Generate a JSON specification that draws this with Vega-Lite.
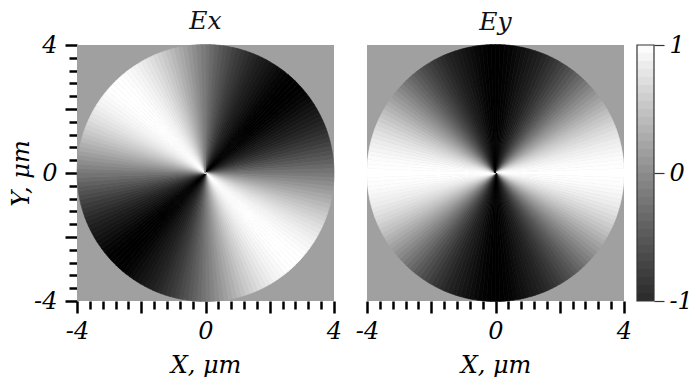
{
  "$schema": "https://vega.github.io/schema/vega-lite/v6.json",
  "background": "white",
  "padding": {"left": 9, "top": 9, "right": 0, "bottom": 0},
  "config": {
    "font": "DejaVu Serif",
    "view": {"stroke": null},
    "axis": {
      "domain": false,
      "grid": false,
      "labelFont": "DejaVu Serif",
      "labelFontStyle": "italic",
      "labelFontSize": 24,
      "labelColor": "#000",
      "titleFont": "DejaVu Serif",
      "titleFontStyle": "italic",
      "titleFontWeight": "normal",
      "titleFontSize": 24,
      "titleColor": "#000",
      "tickColor": "#000",
      "labelFlush": false,
      "labelOverlap": false,
      "labelBound": false
    },
    "title": {"font": "DejaVu Serif", "fontStyle": "italic", "fontWeight": "normal", "fontSize": 25, "color": "#111", "frame": "group", "baseline": "alphabetic"}
  },
  "datasets": {
    "frame": [{"x0": -4, "x1": 4, "y0": -4, "y1": 4}],
    "ex": [
      {"a":0,"b":2,"v":-0.035},{"a":2,"b":4,"v":-0.105},{"a":4,"b":6,"v":-0.174},{"a":6,"b":8,"v":-0.242},{"a":8,"b":10,"v":-0.309},{"a":10,"b":12,"v":-0.375},{"a":12,"b":14,"v":-0.438},{"a":14,"b":16,"v":-0.5},{"a":16,"b":18,"v":-0.559},{"a":18,"b":20,"v":-0.616},{"a":20,"b":22,"v":-0.669},{"a":22,"b":24,"v":-0.719},{"a":24,"b":26,"v":-0.766},{"a":26,"b":28,"v":-0.809},{"a":28,"b":30,"v":-0.848},{"a":30,"b":32,"v":-0.883},{"a":32,"b":34,"v":-0.914},{"a":34,"b":36,"v":-0.94},{"a":36,"b":38,"v":-0.961},{"a":38,"b":40,"v":-0.978},{"a":40,"b":42,"v":-0.99},{"a":42,"b":44,"v":-0.998},{"a":44,"b":46,"v":-1},{"a":46,"b":48,"v":-0.998},{"a":48,"b":50,"v":-0.99},{"a":50,"b":52,"v":-0.978},{"a":52,"b":54,"v":-0.961},{"a":54,"b":56,"v":-0.94},{"a":56,"b":58,"v":-0.914},{"a":58,"b":60,"v":-0.883},{"a":60,"b":62,"v":-0.848},{"a":62,"b":64,"v":-0.809},{"a":64,"b":66,"v":-0.766},{"a":66,"b":68,"v":-0.719},{"a":68,"b":70,"v":-0.669},{"a":70,"b":72,"v":-0.616},{"a":72,"b":74,"v":-0.559},{"a":74,"b":76,"v":-0.5},{"a":76,"b":78,"v":-0.438},{"a":78,"b":80,"v":-0.375},{"a":80,"b":82,"v":-0.309},{"a":82,"b":84,"v":-0.242},{"a":84,"b":86,"v":-0.174},{"a":86,"b":88,"v":-0.105},{"a":88,"b":90,"v":-0.035},
      {"a":90,"b":92,"v":0.035},{"a":92,"b":94,"v":0.105},{"a":94,"b":96,"v":0.174},{"a":96,"b":98,"v":0.242},{"a":98,"b":100,"v":0.309},{"a":100,"b":102,"v":0.375},{"a":102,"b":104,"v":0.438},{"a":104,"b":106,"v":0.5},{"a":106,"b":108,"v":0.559},{"a":108,"b":110,"v":0.616},{"a":110,"b":112,"v":0.669},{"a":112,"b":114,"v":0.719},{"a":114,"b":116,"v":0.766},{"a":116,"b":118,"v":0.809},{"a":118,"b":120,"v":0.848},{"a":120,"b":122,"v":0.883},{"a":122,"b":124,"v":0.914},{"a":124,"b":126,"v":0.94},{"a":126,"b":128,"v":0.961},{"a":128,"b":130,"v":0.978},{"a":130,"b":132,"v":0.99},{"a":132,"b":134,"v":0.998},{"a":134,"b":136,"v":1},{"a":136,"b":138,"v":0.998},{"a":138,"b":140,"v":0.99},{"a":140,"b":142,"v":0.978},{"a":142,"b":144,"v":0.961},{"a":144,"b":146,"v":0.94},{"a":146,"b":148,"v":0.914},{"a":148,"b":150,"v":0.883},{"a":150,"b":152,"v":0.848},{"a":152,"b":154,"v":0.809},{"a":154,"b":156,"v":0.766},{"a":156,"b":158,"v":0.719},{"a":158,"b":160,"v":0.669},{"a":160,"b":162,"v":0.616},{"a":162,"b":164,"v":0.559},{"a":164,"b":166,"v":0.5},{"a":166,"b":168,"v":0.438},{"a":168,"b":170,"v":0.375},{"a":170,"b":172,"v":0.309},{"a":172,"b":174,"v":0.242},{"a":174,"b":176,"v":0.174},{"a":176,"b":178,"v":0.105},{"a":178,"b":180,"v":0.035},
      {"a":180,"b":182,"v":-0.035},{"a":182,"b":184,"v":-0.105},{"a":184,"b":186,"v":-0.174},{"a":186,"b":188,"v":-0.242},{"a":188,"b":190,"v":-0.309},{"a":190,"b":192,"v":-0.375},{"a":192,"b":194,"v":-0.438},{"a":194,"b":196,"v":-0.5},{"a":196,"b":198,"v":-0.559},{"a":198,"b":200,"v":-0.616},{"a":200,"b":202,"v":-0.669},{"a":202,"b":204,"v":-0.719},{"a":204,"b":206,"v":-0.766},{"a":206,"b":208,"v":-0.809},{"a":208,"b":210,"v":-0.848},{"a":210,"b":212,"v":-0.883},{"a":212,"b":214,"v":-0.914},{"a":214,"b":216,"v":-0.94},{"a":216,"b":218,"v":-0.961},{"a":218,"b":220,"v":-0.978},{"a":220,"b":222,"v":-0.99},{"a":222,"b":224,"v":-0.998},{"a":224,"b":226,"v":-1},{"a":226,"b":228,"v":-0.998},{"a":228,"b":230,"v":-0.99},{"a":230,"b":232,"v":-0.978},{"a":232,"b":234,"v":-0.961},{"a":234,"b":236,"v":-0.94},{"a":236,"b":238,"v":-0.914},{"a":238,"b":240,"v":-0.883},{"a":240,"b":242,"v":-0.848},{"a":242,"b":244,"v":-0.809},{"a":244,"b":246,"v":-0.766},{"a":246,"b":248,"v":-0.719},{"a":248,"b":250,"v":-0.669},{"a":250,"b":252,"v":-0.616},{"a":252,"b":254,"v":-0.559},{"a":254,"b":256,"v":-0.5},{"a":256,"b":258,"v":-0.438},{"a":258,"b":260,"v":-0.375},{"a":260,"b":262,"v":-0.309},{"a":262,"b":264,"v":-0.242},{"a":264,"b":266,"v":-0.174},{"a":266,"b":268,"v":-0.105},{"a":268,"b":270,"v":-0.035},
      {"a":270,"b":272,"v":0.035},{"a":272,"b":274,"v":0.105},{"a":274,"b":276,"v":0.174},{"a":276,"b":278,"v":0.242},{"a":278,"b":280,"v":0.309},{"a":280,"b":282,"v":0.375},{"a":282,"b":284,"v":0.438},{"a":284,"b":286,"v":0.5},{"a":286,"b":288,"v":0.559},{"a":288,"b":290,"v":0.616},{"a":290,"b":292,"v":0.669},{"a":292,"b":294,"v":0.719},{"a":294,"b":296,"v":0.766},{"a":296,"b":298,"v":0.809},{"a":298,"b":300,"v":0.848},{"a":300,"b":302,"v":0.883},{"a":302,"b":304,"v":0.914},{"a":304,"b":306,"v":0.94},{"a":306,"b":308,"v":0.961},{"a":308,"b":310,"v":0.978},{"a":310,"b":312,"v":0.99},{"a":312,"b":314,"v":0.998},{"a":314,"b":316,"v":1},{"a":316,"b":318,"v":0.998},{"a":318,"b":320,"v":0.99},{"a":320,"b":322,"v":0.978},{"a":322,"b":324,"v":0.961},{"a":324,"b":326,"v":0.94},{"a":326,"b":328,"v":0.914},{"a":328,"b":330,"v":0.883},{"a":330,"b":332,"v":0.848},{"a":332,"b":334,"v":0.809},{"a":334,"b":336,"v":0.766},{"a":336,"b":338,"v":0.719},{"a":338,"b":340,"v":0.669},{"a":340,"b":342,"v":0.616},{"a":342,"b":344,"v":0.559},{"a":344,"b":346,"v":0.5},{"a":346,"b":348,"v":0.438},{"a":348,"b":350,"v":0.375},{"a":350,"b":352,"v":0.309},{"a":352,"b":354,"v":0.242},{"a":354,"b":356,"v":0.174},{"a":356,"b":358,"v":0.105},{"a":358,"b":360,"v":0.035}
    ],
    "ey": [
      {"a":0,"b":2,"v":-0.999},{"a":2,"b":4,"v":-0.995},{"a":4,"b":6,"v":-0.985},{"a":6,"b":8,"v":-0.97},{"a":8,"b":10,"v":-0.951},{"a":10,"b":12,"v":-0.927},{"a":12,"b":14,"v":-0.899},{"a":14,"b":16,"v":-0.866},{"a":16,"b":18,"v":-0.829},{"a":18,"b":20,"v":-0.788},{"a":20,"b":22,"v":-0.743},{"a":22,"b":24,"v":-0.695},{"a":24,"b":26,"v":-0.643},{"a":26,"b":28,"v":-0.588},{"a":28,"b":30,"v":-0.53},{"a":30,"b":32,"v":-0.469},{"a":32,"b":34,"v":-0.407},{"a":34,"b":36,"v":-0.342},{"a":36,"b":38,"v":-0.276},{"a":38,"b":40,"v":-0.208},{"a":40,"b":42,"v":-0.139},{"a":42,"b":44,"v":-0.07},{"a":44,"b":46,"v":0},{"a":46,"b":48,"v":0.07},{"a":48,"b":50,"v":0.139},{"a":50,"b":52,"v":0.208},{"a":52,"b":54,"v":0.276},{"a":54,"b":56,"v":0.342},{"a":56,"b":58,"v":0.407},{"a":58,"b":60,"v":0.469},{"a":60,"b":62,"v":0.53},{"a":62,"b":64,"v":0.588},{"a":64,"b":66,"v":0.643},{"a":66,"b":68,"v":0.695},{"a":68,"b":70,"v":0.743},{"a":70,"b":72,"v":0.788},{"a":72,"b":74,"v":0.829},{"a":74,"b":76,"v":0.866},{"a":76,"b":78,"v":0.899},{"a":78,"b":80,"v":0.927},{"a":80,"b":82,"v":0.951},{"a":82,"b":84,"v":0.97},{"a":84,"b":86,"v":0.985},{"a":86,"b":88,"v":0.995},{"a":88,"b":90,"v":0.999},
      {"a":90,"b":92,"v":0.999},{"a":92,"b":94,"v":0.995},{"a":94,"b":96,"v":0.985},{"a":96,"b":98,"v":0.97},{"a":98,"b":100,"v":0.951},{"a":100,"b":102,"v":0.927},{"a":102,"b":104,"v":0.899},{"a":104,"b":106,"v":0.866},{"a":106,"b":108,"v":0.829},{"a":108,"b":110,"v":0.788},{"a":110,"b":112,"v":0.743},{"a":112,"b":114,"v":0.695},{"a":114,"b":116,"v":0.643},{"a":116,"b":118,"v":0.588},{"a":118,"b":120,"v":0.53},{"a":120,"b":122,"v":0.469},{"a":122,"b":124,"v":0.407},{"a":124,"b":126,"v":0.342},{"a":126,"b":128,"v":0.276},{"a":128,"b":130,"v":0.208},{"a":130,"b":132,"v":0.139},{"a":132,"b":134,"v":0.07},{"a":134,"b":136,"v":0},{"a":136,"b":138,"v":-0.07},{"a":138,"b":140,"v":-0.139},{"a":140,"b":142,"v":-0.208},{"a":142,"b":144,"v":-0.276},{"a":144,"b":146,"v":-0.342},{"a":146,"b":148,"v":-0.407},{"a":148,"b":150,"v":-0.469},{"a":150,"b":152,"v":-0.53},{"a":152,"b":154,"v":-0.588},{"a":154,"b":156,"v":-0.643},{"a":156,"b":158,"v":-0.695},{"a":158,"b":160,"v":-0.743},{"a":160,"b":162,"v":-0.788},{"a":162,"b":164,"v":-0.829},{"a":164,"b":166,"v":-0.866},{"a":166,"b":168,"v":-0.899},{"a":168,"b":170,"v":-0.927},{"a":170,"b":172,"v":-0.951},{"a":172,"b":174,"v":-0.97},{"a":174,"b":176,"v":-0.985},{"a":176,"b":178,"v":-0.995},{"a":178,"b":180,"v":-0.999},
      {"a":180,"b":182,"v":-0.999},{"a":182,"b":184,"v":-0.995},{"a":184,"b":186,"v":-0.985},{"a":186,"b":188,"v":-0.97},{"a":188,"b":190,"v":-0.951},{"a":190,"b":192,"v":-0.927},{"a":192,"b":194,"v":-0.899},{"a":194,"b":196,"v":-0.866},{"a":196,"b":198,"v":-0.829},{"a":198,"b":200,"v":-0.788},{"a":200,"b":202,"v":-0.743},{"a":202,"b":204,"v":-0.695},{"a":204,"b":206,"v":-0.643},{"a":206,"b":208,"v":-0.588},{"a":208,"b":210,"v":-0.53},{"a":210,"b":212,"v":-0.469},{"a":212,"b":214,"v":-0.407},{"a":214,"b":216,"v":-0.342},{"a":216,"b":218,"v":-0.276},{"a":218,"b":220,"v":-0.208},{"a":220,"b":222,"v":-0.139},{"a":222,"b":224,"v":-0.07},{"a":224,"b":226,"v":0},{"a":226,"b":228,"v":0.07},{"a":228,"b":230,"v":0.139},{"a":230,"b":232,"v":0.208},{"a":232,"b":234,"v":0.276},{"a":234,"b":236,"v":0.342},{"a":236,"b":238,"v":0.407},{"a":238,"b":240,"v":0.469},{"a":240,"b":242,"v":0.53},{"a":242,"b":244,"v":0.588},{"a":244,"b":246,"v":0.643},{"a":246,"b":248,"v":0.695},{"a":248,"b":250,"v":0.743},{"a":250,"b":252,"v":0.788},{"a":252,"b":254,"v":0.829},{"a":254,"b":256,"v":0.866},{"a":256,"b":258,"v":0.899},{"a":258,"b":260,"v":0.927},{"a":260,"b":262,"v":0.951},{"a":262,"b":264,"v":0.97},{"a":264,"b":266,"v":0.985},{"a":266,"b":268,"v":0.995},{"a":268,"b":270,"v":0.999},
      {"a":270,"b":272,"v":0.999},{"a":272,"b":274,"v":0.995},{"a":274,"b":276,"v":0.985},{"a":276,"b":278,"v":0.97},{"a":278,"b":280,"v":0.951},{"a":280,"b":282,"v":0.927},{"a":282,"b":284,"v":0.899},{"a":284,"b":286,"v":0.866},{"a":286,"b":288,"v":0.829},{"a":288,"b":290,"v":0.788},{"a":290,"b":292,"v":0.743},{"a":292,"b":294,"v":0.695},{"a":294,"b":296,"v":0.643},{"a":296,"b":298,"v":0.588},{"a":298,"b":300,"v":0.53},{"a":300,"b":302,"v":0.469},{"a":302,"b":304,"v":0.407},{"a":304,"b":306,"v":0.342},{"a":306,"b":308,"v":0.276},{"a":308,"b":310,"v":0.208},{"a":310,"b":312,"v":0.139},{"a":312,"b":314,"v":0.07},{"a":314,"b":316,"v":0},{"a":316,"b":318,"v":-0.07},{"a":318,"b":320,"v":-0.139},{"a":320,"b":322,"v":-0.208},{"a":322,"b":324,"v":-0.276},{"a":324,"b":326,"v":-0.342},{"a":326,"b":328,"v":-0.407},{"a":328,"b":330,"v":-0.469},{"a":330,"b":332,"v":-0.53},{"a":332,"b":334,"v":-0.588},{"a":334,"b":336,"v":-0.643},{"a":336,"b":338,"v":-0.695},{"a":338,"b":340,"v":-0.743},{"a":340,"b":342,"v":-0.788},{"a":342,"b":344,"v":-0.829},{"a":344,"b":346,"v":-0.866},{"a":346,"b":348,"v":-0.899},{"a":348,"b":350,"v":-0.927},{"a":350,"b":352,"v":-0.951},{"a":352,"b":354,"v":-0.97},{"a":354,"b":356,"v":-0.985},{"a":356,"b":358,"v":-0.995},{"a":358,"b":360,"v":-0.999}
    ],
    "bar": [
      {"lo":-1,"hi":-0.9375,"v":-0.96875},{"lo":-0.9375,"hi":-0.875,"v":-0.90625},{"lo":-0.875,"hi":-0.8125,"v":-0.84375},{"lo":-0.8125,"hi":-0.75,"v":-0.78125},
      {"lo":-0.75,"hi":-0.6875,"v":-0.71875},{"lo":-0.6875,"hi":-0.625,"v":-0.65625},{"lo":-0.625,"hi":-0.5625,"v":-0.59375},{"lo":-0.5625,"hi":-0.5,"v":-0.53125},
      {"lo":-0.5,"hi":-0.4375,"v":-0.46875},{"lo":-0.4375,"hi":-0.375,"v":-0.40625},{"lo":-0.375,"hi":-0.3125,"v":-0.34375},{"lo":-0.3125,"hi":-0.25,"v":-0.28125},
      {"lo":-0.25,"hi":-0.1875,"v":-0.21875},{"lo":-0.1875,"hi":-0.125,"v":-0.15625},{"lo":-0.125,"hi":-0.0625,"v":-0.09375},{"lo":-0.0625,"hi":0,"v":-0.03125},
      {"lo":0,"hi":0.0625,"v":0.03125},{"lo":0.0625,"hi":0.125,"v":0.09375},{"lo":0.125,"hi":0.1875,"v":0.15625},{"lo":0.1875,"hi":0.25,"v":0.21875},
      {"lo":0.25,"hi":0.3125,"v":0.28125},{"lo":0.3125,"hi":0.375,"v":0.34375},{"lo":0.375,"hi":0.4375,"v":0.40625},{"lo":0.4375,"hi":0.5,"v":0.46875},
      {"lo":0.5,"hi":0.5625,"v":0.53125},{"lo":0.5625,"hi":0.625,"v":0.59375},{"lo":0.625,"hi":0.6875,"v":0.65625},{"lo":0.6875,"hi":0.75,"v":0.71875},
      {"lo":0.75,"hi":0.8125,"v":0.78125},{"lo":0.8125,"hi":0.875,"v":0.84375},{"lo":0.875,"hi":0.9375,"v":0.90625},{"lo":0.9375,"hi":1,"v":0.96875}
    ],
    "barframe": [{"lo": -1, "hi": 1}]
  },
  "hconcat": [
    {
      "bounds": "flush",
      "spacing": 33,
      "resolve": {"scale": {"theta": "independent", "radius": "independent", "x": "independent", "y": "independent"}},
      "hconcat": [
        {
          "width": 257,
          "height": 256,
          "title": {"text": "Ex", "offset": -1},
          "layer": [
            {
              "data": {"name": "frame"},
              "mark": {"type": "rect", "color": "#a0a0a0"},
              "encoding": {
                "x": {
                  "field": "x0", "type": "quantitative",
                  "scale": {"domain": [-4, 4], "nice": false, "zero": false},
                  "axis": {
                    "title": "X, μm",
                    "values": [-4,-3.6,-3.2,-2.8,-2.4,-2,-1.6,-1.2,-0.8,-0.4,0,0.4,0.8,1.2,1.6,2,2.4,2.8,3.2,3.6,4],
                    "tickCount": 40,
                    "labelExpr": "datum.value === -4 ? '-4' : datum.value === 0 ? '0' : datum.value === 4 ? '4' : ''",
                    "tickSize": {"condition": {"test": "datum.value === 0 || abs(datum.value) === 2 || abs(datum.value) === 4", "value": 12}, "value": 8},
                    "tickWidth": 2.5,
                    "labelPadding": 6,
                    "titlePadding": 10
                  }
                },
                "x2": {"field": "x1"},
                "y": {
                  "field": "y0", "type": "quantitative",
                  "scale": {"domain": [-4, 4], "nice": false, "zero": false},
                  "axis": {
                    "title": "Y, μm",
                    "values": [-4,-3.6,-3.2,-2.8,-2.4,-2,-1.6,-1.2,-0.8,-0.4,0,0.4,0.8,1.2,1.6,2,2.4,2.8,3.2,3.6,4],
                    "tickCount": 40,
                    "labelExpr": "datum.value === -4 ? '-4' : datum.value === 0 ? '0' : datum.value === 4 ? '4' : ''",
                    "tickSize": {"condition": {"test": "datum.value === 0 || abs(datum.value) === 2 || abs(datum.value) === 4", "value": 12}, "value": 8},
                    "tickWidth": 2.5,
                    "labelPadding": 8,
                    "titlePadding": 0
                  }
                },
                "y2": {"field": "y1"}
              }
            },
            {
              "data": {"name": "ex"},
              "mark": {"type": "arc", "strokeWidth": 0.6},
              "encoding": {
                "x": {"datum": 0, "type": "quantitative"},
                "y": {"datum": 0, "type": "quantitative"},
                "theta": {"field": "a", "type": "quantitative", "stack": null, "scale": {"domain": [0, 360], "range": [0, 6.283185307179586]}},
                "theta2": {"field": "b"},
                "radius": {"datum": 4, "type": "quantitative", "scale": {"type": "linear", "domain": [0, 4], "range": [0, 128.5]}},
                "fill": {"field": "v", "type": "quantitative", "scale": {"domain": [-1, 1], "range": ["#000000", "#ffffff"]}, "legend": null},
                "stroke": {"field": "v", "type": "quantitative", "scale": {"domain": [-1, 1], "range": ["#000000", "#ffffff"]}, "legend": null}
              }
            }
          ]
        },
        {
          "width": 257,
          "height": 256,
          "title": {"text": "Ey", "offset": 8},
          "layer": [
            {
              "data": {"name": "frame"},
              "mark": {"type": "rect", "color": "#a0a0a0"},
              "encoding": {
                "x": {
                  "field": "x0", "type": "quantitative",
                  "scale": {"domain": [-4, 4], "nice": false, "zero": false},
                  "axis": {
                    "title": "X, μm",
                    "values": [-4,-3.6,-3.2,-2.8,-2.4,-2,-1.6,-1.2,-0.8,-0.4,0,0.4,0.8,1.2,1.6,2,2.4,2.8,3.2,3.6,4],
                    "tickCount": 40,
                    "labelExpr": "datum.value === -4 ? '-4' : datum.value === 0 ? '0' : datum.value === 4 ? '4' : ''",
                    "tickSize": {"condition": {"test": "datum.value === 0 || abs(datum.value) === 2 || abs(datum.value) === 4", "value": 12}, "value": 8},
                    "tickWidth": 2.5,
                    "labelPadding": 6,
                    "titlePadding": 10
                  }
                },
                "x2": {"field": "x1"},
                "y": {
                  "field": "y0", "type": "quantitative",
                  "scale": {"domain": [-4, 4], "nice": false, "zero": false},
                  "axis": null
                },
                "y2": {"field": "y1"}
              }
            },
            {
              "data": {"name": "ey"},
              "mark": {"type": "arc", "strokeWidth": 0.6},
              "encoding": {
                "x": {"datum": 0, "type": "quantitative"},
                "y": {"datum": 0, "type": "quantitative"},
                "theta": {"field": "a", "type": "quantitative", "stack": null, "scale": {"domain": [0, 360], "range": [0, 6.283185307179586]}},
                "theta2": {"field": "b"},
                "radius": {"datum": 4, "type": "quantitative", "scale": {"type": "linear", "domain": [0, 4], "range": [0, 128.5]}},
                "fill": {"field": "v", "type": "quantitative", "scale": {"domain": [-1, 1], "range": ["#000000", "#ffffff"]}, "legend": null},
                "stroke": {"field": "v", "type": "quantitative", "scale": {"domain": [-1, 1], "range": ["#000000", "#ffffff"]}, "legend": null}
              }
            }
          ]
        }
      ]
    },
    {
      "width": 17,
      "height": 256,
      "layer": [
        {
          "data": {"name": "bar"},
          "mark": {"type": "rect"},
          "encoding": {
            "y": {
              "field": "lo", "type": "quantitative",
              "scale": {"domain": [-1, 1], "nice": false, "zero": false},
              "axis": {
                "orient": "right",
                "title": null,
                "values": [-1, 0, 1],
                "labelExpr": "datum.value === -1 ? '-1' : datum.value === 0 ? '0' : '1'",
                "tickSize": 10,
                "tickWidth": 1.2,
                "tickColor": "#333",
                "labelPadding": 5
              }
            },
            "y2": {"field": "hi"},
            "color": {"field": "v", "type": "quantitative", "scale": {"domain": [-1, 1], "range": ["#2a2a2a", "#ffffff"]}, "legend": null}
          }
        },
        {
          "data": {"name": "barframe"},
          "mark": {"type": "rect", "fillOpacity": 0, "stroke": "#333", "strokeWidth": 1.2},
          "encoding": {
            "y": {"field": "lo", "type": "quantitative"},
            "y2": {"field": "hi"}
          }
        }
      ]
    }
  ],
  "spacing": 4,
  "resolve": {"scale": {"color": "independent", "fill": "independent", "stroke": "independent", "y": "independent", "x": "independent"}}
}
